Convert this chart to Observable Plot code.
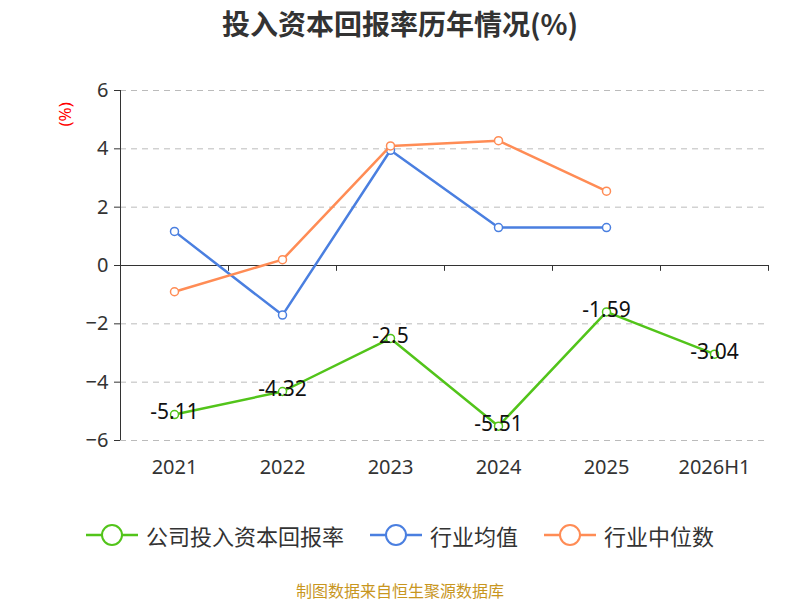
<!DOCTYPE html>
<html><head><meta charset="utf-8">
<script src="https://cdn.jsdelivr.net/npm/d3@7"></script>
<script src="https://cdn.jsdelivr.net/npm/@observablehq/plot@0.6"></script>
<style>
body{margin:0;font-family:"Noto Sans CJK SC","Noto Sans",sans-serif;}
#wrap{position:relative;width:800px;height:600px;}
#title{position:absolute;top:3px;left:0;width:800px;text-align:center;font-size:28px;font-weight:bold;color:#333;}
#legend{position:absolute;top:519px;left:0;width:800px;display:flex;justify-content:center;gap:26px;font-size:22px;color:#333;}
.li{display:flex;align-items:center;gap:8px;}
#src{position:absolute;top:578px;left:0;width:800px;text-align:center;font-size:16px;color:#c8961e;}
#chart{position:absolute;top:0;left:0;}
</style></head><body>
<div id="wrap"><div id="chart"></div>
<div id="title">投入资本回报率历年情况(%)</div>
<div id="legend"></div>
<div id="src">制图数据来自恒生聚源数据库</div></div>
<script>
const years=["2021","2022","2023","2024","2025","2026H1"];
const company=[-5.11,-4.32,-2.5,-5.51,-1.59,-3.04];
const industryAvg=[1.17,-1.7,3.95,1.3,1.3];
const industryMed=[-0.9,0.2,4.1,4.28,2.55];
const yTicks=[-6,-4,-2,0,2,4,6];
const names=["公司投入资本回报率","行业均值","行业中位数"];
const colors=["#52c41a","#4a7fe0","#ff8c55"];
const c=company.map((v,i)=>({x:years[i],y:v}));
const a=industryAvg.map((v,i)=>({x:years[i],y:v}));
const m=industryMed.map((v,i)=>({x:years[i],y:v}));
const bw=108;
const p=Plot.plot({width:800,height:600,marginTop:90,marginBottom:160,marginLeft:120,marginRight:32,
 style:{fontSize:"20px",fontFamily:"Noto Sans, sans-serif",color:"#333"},
 x:{type:"band",domain:years,padding:0,label:null},
 y:{domain:[-6,6],ticks:yTicks,label:null},
 marks:[
  Plot.gridY(yTicks.filter(t=>t!==0),{stroke:"#bbb",strokeOpacity:1,strokeDasharray:"6,5"}),
  Plot.axisY({ticks:yTicks,tickSize:6,tickPadding:6,fontSize:20}),
  Plot.ruleX([0],{x:()=>years[0],dx:-bw/2,y1:-6,y2:6,stroke:"#333"}),
  Plot.ruleY([0],{stroke:"#333"}),
  Plot.ruleX(years,{x:d=>d,dx:-bw/2,y1:0,y2:-0.2,stroke:"#333"}),
  Plot.ruleX([years[5]],{x:d=>d,dx:bw/2,y1:0,y2:-0.2,stroke:"#333"}),
  Plot.axisX({tickSize:0,fontSize:20,dy:10,frameAnchor:"bottom"}),
  Plot.text(["(%)"],{frameAnchor:"top-left",dx:-62,dy:36,rotate:-90,fill:"red",fontSize:17,text:d=>d}),
  Plot.line(a,{x:"x",y:"y",stroke:colors[1],strokeWidth:2.5}),
  Plot.dot(a,{x:"x",y:"y",r:4,fill:"white",stroke:colors[1],strokeWidth:1.5}),
  Plot.line(m,{x:"x",y:"y",stroke:colors[2],strokeWidth:2.5}),
  Plot.dot(m,{x:"x",y:"y",r:4,fill:"white",stroke:colors[2],strokeWidth:1.5}),
  Plot.line(c,{x:"x",y:"y",stroke:colors[0],strokeWidth:2.5}),
  Plot.dot(c,{x:"x",y:"y",r:4,fill:"white",stroke:colors[0],strokeWidth:1.5}),
  Plot.text(c,{x:"x",y:"y",text:d=>String(d.y),fontSize:21,fill:"#111",dy:-2})
 ]});
document.getElementById("chart").appendChild(p);
const lg=document.getElementById("legend");
names.forEach((n,i)=>{const d=document.createElement("div");d.className="li";
 d.innerHTML=`<svg width="52" height="24"><line x1="0" y1="12" x2="52" y2="12" stroke="${colors[i]}" stroke-width="2.5"/><circle cx="26" cy="12" r="10" fill="white" stroke="${colors[i]}" stroke-width="2"/></svg><span>${n}</span>`;lg.appendChild(d);});
</script></body></html>
